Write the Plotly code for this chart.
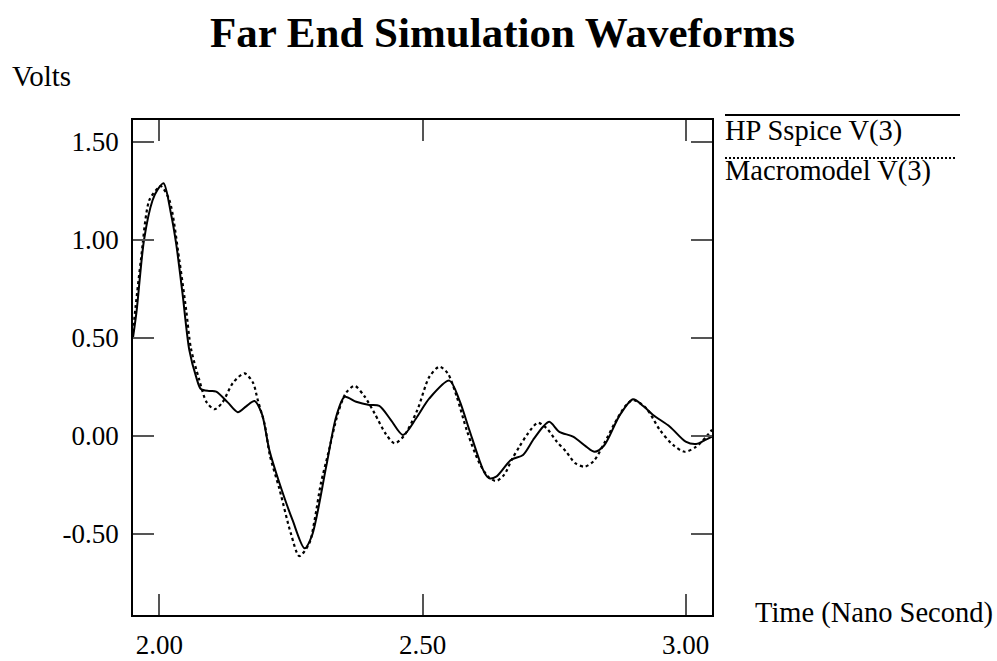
import plotly.graph_objects as go

# ---- data ----
t_hp = [1.950, 1.957, 1.971, 1.987, 1.997, 2.008, 2.022, 2.032, 2.044, 2.057, 2.070, 2.079,
        2.095, 2.108, 2.130, 2.149, 2.165, 2.181, 2.195, 2.209, 2.228, 2.253, 2.276, 2.290,
        2.317, 2.336, 2.352, 2.374, 2.399, 2.418, 2.440, 2.463, 2.488, 2.513, 2.551, 2.570,
        2.589, 2.608, 2.618, 2.627, 2.640, 2.668, 2.691, 2.710, 2.729, 2.741, 2.760, 2.786,
        2.811, 2.827, 2.845, 2.875, 2.900, 2.920, 2.938, 2.970, 3.000, 3.020, 3.035, 3.050]
v_hp = [0.50, 0.64, 1.00, 1.20, 1.257, 1.288, 1.135, 0.98, 0.727, 0.437, 0.30, 0.238,
        0.228, 0.225, 0.17, 0.12, 0.15, 0.177, 0.11, -0.073, -0.24, -0.43, -0.575, -0.51,
        -0.158, 0.097, 0.198, 0.173, 0.157, 0.152, 0.08, 0.004, 0.089, 0.19, 0.281, 0.182,
        0.029, -0.124, -0.19, -0.217, -0.209, -0.124, -0.098, -0.022, 0.046, 0.071, 0.02, -0.005,
        -0.056, -0.082, -0.05, 0.106, 0.186, 0.15, 0.106, 0.046, -0.03, -0.042, -0.025, -0.005]

t_macro = [1.950, 1.955, 1.965, 1.981, 1.997, 2.003, 2.019, 2.038, 2.051, 2.060, 2.076, 2.090,
           2.105, 2.120, 2.140, 2.162, 2.178, 2.187, 2.200, 2.210, 2.228, 2.250, 2.266, 2.285,
           2.295, 2.307, 2.320, 2.340, 2.355, 2.371, 2.390, 2.409, 2.430, 2.447, 2.465, 2.490,
           2.513, 2.532, 2.548, 2.565, 2.585, 2.608, 2.625, 2.640, 2.655, 2.670, 2.684, 2.700,
           2.719, 2.735, 2.755, 2.773, 2.790, 2.808, 2.825, 2.845, 2.865, 2.885, 2.900, 2.925,
           2.951, 2.976, 2.998, 3.020, 3.039, 3.050]
v_macro = [0.53, 0.66, 0.896, 1.202, 1.262, 1.274, 1.203, 0.896, 0.641, 0.446, 0.284, 0.17,
           0.135, 0.17, 0.27, 0.318, 0.27, 0.182, 0.06, -0.10, -0.27, -0.50, -0.614, -0.549,
           -0.43, -0.243, -0.10, 0.12, 0.22, 0.254, 0.20, 0.114, 0.01, -0.039, 0.0, 0.13,
           0.30, 0.352, 0.318, 0.20, 0.02, -0.14, -0.21, -0.231, -0.20, -0.12, -0.056, 0.01,
           0.066, 0.04, -0.03, -0.082, -0.14, -0.158, -0.13, -0.04, 0.063, 0.15, 0.182, 0.14,
           0.029, -0.047, -0.082, -0.056, -0.005, 0.03]

x_tick_vals = [2.0, 2.5, 3.0]
x_tick_text = ["2.00", "2.50", "3.00"]
y_tick_vals = [1.5, 1.0, 0.5, 0.0, -0.5]
y_tick_text = ["1.50", "1.00", "0.50", "0.00", "-0.50"]

series_names = ["HP Sspice V(3)", "Macromodel V(3)"]

# ---- layout geometry (pixels) ----
W, H = 997, 661
L, R, T, B = 133, 712, 120, 615
FONT = "Liberation Serif"


def px(xp):
    return (xp - L) / (R - L)


def py(yp):
    return (B - yp) / (B - T)


fig = go.Figure()
fig.add_trace(go.Scatter(x=t_hp, y=v_hp, mode="lines", name=series_names[0],
                         line=dict(color="black", width=2, shape="spline", smoothing=0.8)))
fig.add_trace(go.Scatter(x=t_macro, y=v_macro, mode="lines", name=series_names[1],
                         line=dict(color="black", width=2.2, dash="3px,3px", shape="spline", smoothing=0.8)))

axis_common = dict(showline=True, linecolor="black", linewidth=1.5, mirror="ticks",
                   ticks="inside", ticklen=21, tickwidth=1.5, tickcolor="#555",
                   showgrid=False, zeroline=False, automargin=False,
                   tickfont=dict(family=FONT, size=27, color="black"))

fig.update_xaxes(range=[1.95, 3.05], tickvals=x_tick_vals, ticktext=x_tick_text,
                 ticklabelstandoff=5, **axis_common)
fig.update_yaxes(range=[-0.915, 1.611], tickvals=y_tick_vals, ticktext=y_tick_text,
                 ticklabelstandoff=7, **axis_common)

annotations = [
    dict(text="<b>Far End Simulation Waveforms</b>", x=px(502), y=py(33), xanchor="center",
         yanchor="middle", font=dict(family=FONT, size=43, color="black")),
    dict(text="Volts", x=px(10), y=py(76), xanchor="left", yanchor="middle",
         font=dict(family=FONT, size=29, color="black")),
    dict(text="Time (Nano Second)", x=px(753), y=py(613), xanchor="left", yanchor="middle",
         font=dict(family=FONT, size=28.5, color="black")),
    dict(text=series_names[0], x=px(723), y=py(131), xanchor="left", yanchor="middle",
         font=dict(family=FONT, size=28.5, color="black")),
    dict(text=series_names[1], x=px(723), y=py(171), xanchor="left", yanchor="middle",
         font=dict(family=FONT, size=28.5, color="black")),
]
for a in annotations:
    a.update(xref="paper", yref="paper", showarrow=False)

shapes = [
    dict(type="line", xref="paper", yref="paper", x0=px(725), x1=px(960), y0=py(115), y1=py(115),
         line=dict(color="black", width=2)),
    dict(type="line", xref="paper", yref="paper", x0=px(725), x1=px(957), y0=py(158), y1=py(158),
         line=dict(color="black", width=2, dash="2px,2px")),
]

fig.update_layout(width=W, height=H, margin=dict(l=L, r=W - R, t=T, b=H - B),
                  paper_bgcolor="white", plot_bgcolor="white", showlegend=False,
                  annotations=annotations, shapes=shapes)

fig.write_html("out.html")
